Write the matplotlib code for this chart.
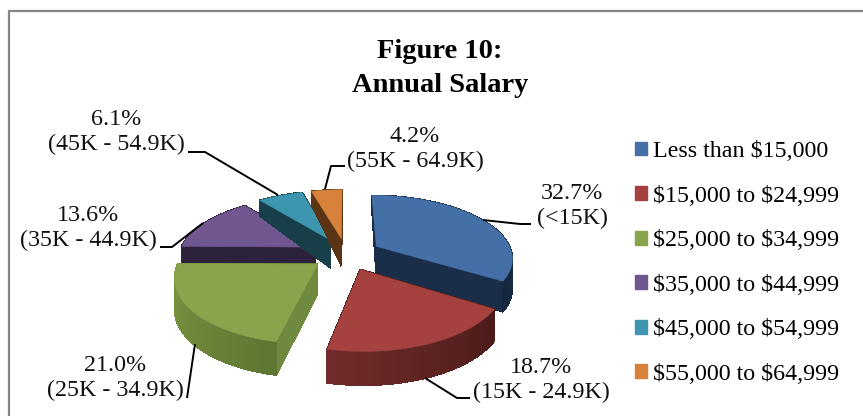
import numpy as np
import matplotlib
matplotlib.use('Agg')
import matplotlib.pyplot as plt
from matplotlib.patches import Patch, Polygon, Rectangle

plt.rcParams['font.family'] = ['Liberation Serif', 'DejaVu Serif']
plt.rcParams['text.parse_math'] = False

# Datos
pct = [32.7, 18.7, 21.0, 13.6, 6.1, 4.2]
rangos = ['(<15K)', '(15K - 24.9K)', '(25K - 34.9K)', '(35K - 44.9K)',
          '(45K - 54.9K)', '(55K - 64.9K)']
leyenda = ['Less than $15,000', '$15,000 to $24,999', '$25,000 to $34,999',
           '$35,000 to $44,999', '$45,000 to $54,999', '$55,000 to $64,999']
colores = ['#4570a7', '#a5423f', '#88a54b', '#70578f', '#3e95af', '#d7823a']
# color de la pared: (inicio, fin) y de los cortes
pared = [('#1f3655', '#16283f'), ('#4a1b19', '#702c2a'), ('#5f7632', '#7f9b46'),
         ('#2d223b', '#2d223b'), ('#183e4a', '#183e4a'), ('#5a3414', '#5a3414')]
corte = ['#1a2e4a', '#4a1b19', '#6f8a3e', '#2d223b', '#183e4a', '#5a3414']

# Posicion de etiquetas y lineas guia (en pixeles)
pos_txt = [(572, 206), (541, 380), (115, 378), (88, 228), (116, 132), (415, 149)]
guias = [[(483, 220), (520, 224), (531, 224)],
         [(425, 378), (457, 398), (470, 398)],
         [(195, 344), (187, 398)],
         [(203, 223), (172, 247), (160, 247)],
         [(278, 195), (205, 152), (188, 152)],
         [(325, 189), (331, 166), (345, 166)]]

# Geometria del pastel
cx, cy = 346, 254
rx, ry = 136, 62
k = 0.17
expl = 0.26


def proy(u, v):
    e = 1 + k * v
    return cx + rx * u / e, cy - ry * v / e


def alto(v):
    # la pared se ve mas baja hacia el fondo
    return np.interp(v, [-1.3, 0.2, 1.25], [34, 28, 12])


def hex2rgb(c):
    return np.array(matplotlib.colors.to_rgb(c))


def cara(u1, v1, u2, v2):
    p1, p2 = proy(u1, v1), proy(u2, v2)
    return [p1, p2, (p2[0], p2[1] + alto(v2)), (p1[0], p1[1] + alto(v1))]


fig = plt.figure(figsize=(8.63, 4.16), dpi=100)
ax = fig.add_axes([0, 0, 1, 1])
ax.set_xlim(0, 863)
ax.set_ylim(416, 0)
ax.axis('off')

# Marco (sin lado derecho ni inferior dentro de la imagen)
ax.add_patch(Rectangle((9, 11), 900, 450, fc='white', ec='#868686', lw=1.6))

# Angulos a partir de los porcentajes (sentido horario desde arriba)
ang = np.cumsum([0] + pct) / sum(pct) * 2 * np.pi

# Primero las porciones de atras
orden = [3, 4, 5, 0, 2, 1]
for i in orden:
    a0, a1 = ang[i], ang[i + 1]
    am = (a0 + a1) / 2
    ou, ov = expl * np.sin(am), expl * np.cos(am)
    t = np.linspace(a0, a1, 80)
    us = ou + np.sin(t)
    vs = ov + np.cos(t)
    top = np.array([proy(ou, ov)] + [proy(a, b) for a, b in zip(us, vs)])
    caras = []
    # cortes
    for ta in (a0, a1):
        uu, vv = ou + np.sin(ta), ov + np.cos(ta)
        caras.append(((ov + vv) / 2, cara(ou, ov, uu, vv), corte[i]))
    # pared con degradado
    c0, c1 = hex2rgb(pared[i][0]), hex2rgb(pared[i][1])
    for j in range(len(t) - 1):
        quad = cara(us[j], vs[j], us[j + 1], vs[j + 1])
        f = j / (len(t) - 2)
        caras.append(((vs[j] + vs[j + 1]) / 2, quad, c0 + (c1 - c0) * f))
    caras.sort(key=lambda c: -c[0])
    for _, quad, col in caras:
        ax.add_patch(Polygon(quad, closed=True, fc=col, ec=col, lw=0.6, antialiased=False))
    ax.add_patch(Polygon(top, closed=True, fc=colores[i], ec=colores[i], lw=0.4))

# Titulo
ax.text(440, 52, 'Figure 10:', ha='center', va='center', fontsize=20.5, fontweight='bold')
ax.text(440, 85, 'Annual Salary', ha='center', va='center', fontsize=20.5, fontweight='bold')

# Etiquetas y guias
for i in range(len(pct)):
    x, y = pos_txt[i]
    ax.text(x, y, f'{pct[i]:.1f}%\n{rangos[i]}', ha='center', va='center',
            fontsize=17.3, linespacing=1.18, color='#111111')
    g = np.array(guias[i])
    ax.plot(g[:, 0], g[:, 1], color='black', lw=1.4, solid_capstyle='butt')

# Leyenda
handles = [Patch(fc=c, ec=c) for c in colores]
ax.legend(handles, leyenda, loc='center left', bbox_to_anchor=(635 / 863, 1 - 263 / 416),
          frameon=False, fontsize=17.3, handlelength=0.5, handleheight=0.5,
          handletextpad=0.26, labelspacing=0.98, borderpad=0, borderaxespad=0)

fig.savefig('out.png', dpi=100)
